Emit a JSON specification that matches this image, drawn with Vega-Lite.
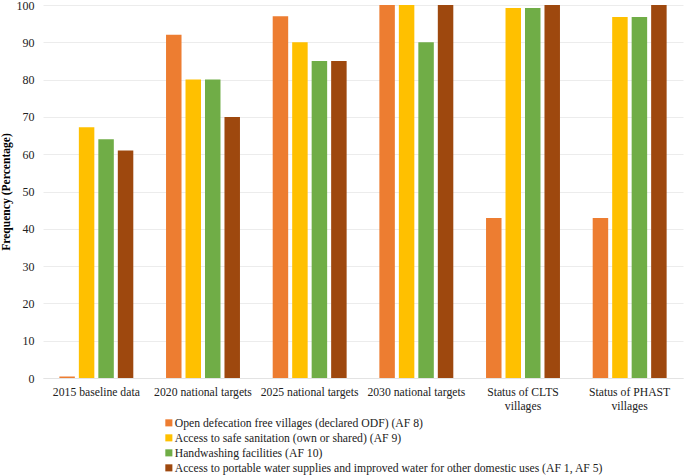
{
  "$schema": "https://vega.github.io/schema/vega-lite/v6.json",
  "width": 640,
  "height": 373,
  "padding": {"left": 43, "top": 5, "right": 2, "bottom": 98},
  "autosize": {"type": "none"},
  "background": "white",
  "data": {"values": [
    {"group": "2015 baseline data", "series": "Open defecation free villages (declared ODF) (AF 8)", "value": 0.4},
    {"group": "2015 baseline data", "series": "Access to safe sanitation (own or shared) (AF 9)", "value": 67.2},
    {"group": "2015 baseline data", "series": "Handwashing facilities (AF 10)", "value": 64},
    {"group": "2015 baseline data", "series": "Access to portable water supplies and improved water for other domestic uses (AF 1, AF 5)", "value": 61},
    {"group": "2020 national targets", "series": "Open defecation free villages (declared ODF) (AF 8)", "value": 92},
    {"group": "2020 national targets", "series": "Access to safe sanitation (own or shared) (AF 9)", "value": 80},
    {"group": "2020 national targets", "series": "Handwashing facilities (AF 10)", "value": 80},
    {"group": "2020 national targets", "series": "Access to portable water supplies and improved water for other domestic uses (AF 1, AF 5)", "value": 70},
    {"group": "2025 national targets", "series": "Open defecation free villages (declared ODF) (AF 8)", "value": 97},
    {"group": "2025 national targets", "series": "Access to safe sanitation (own or shared) (AF 9)", "value": 90},
    {"group": "2025 national targets", "series": "Handwashing facilities (AF 10)", "value": 85},
    {"group": "2025 national targets", "series": "Access to portable water supplies and improved water for other domestic uses (AF 1, AF 5)", "value": 85},
    {"group": "2030 national targets", "series": "Open defecation free villages (declared ODF) (AF 8)", "value": 100},
    {"group": "2030 national targets", "series": "Access to safe sanitation (own or shared) (AF 9)", "value": 100},
    {"group": "2030 national targets", "series": "Handwashing facilities (AF 10)", "value": 90},
    {"group": "2030 national targets", "series": "Access to portable water supplies and improved water for other domestic uses (AF 1, AF 5)", "value": 100},
    {"group": "Status of CLTS villages", "series": "Open defecation free villages (declared ODF) (AF 8)", "value": 42.9},
    {"group": "Status of CLTS villages", "series": "Access to safe sanitation (own or shared) (AF 9)", "value": 99.2},
    {"group": "Status of CLTS villages", "series": "Handwashing facilities (AF 10)", "value": 99.2},
    {"group": "Status of CLTS villages", "series": "Access to portable water supplies and improved water for other domestic uses (AF 1, AF 5)", "value": 100},
    {"group": "Status of PHAST villages", "series": "Open defecation free villages (declared ODF) (AF 8)", "value": 42.9},
    {"group": "Status of PHAST villages", "series": "Access to safe sanitation (own or shared) (AF 9)", "value": 96.8},
    {"group": "Status of PHAST villages", "series": "Handwashing facilities (AF 10)", "value": 96.8},
    {"group": "Status of PHAST villages", "series": "Access to portable water supplies and improved water for other domestic uses (AF 1, AF 5)", "value": 100}
  ]},
  "config": {"font": "Liberation Serif", "view": {"stroke": null}},
  "mark": {"type": "bar"},
  "encoding": {
    "x": {
      "field": "group",
      "type": "nominal",
      "sort": null,
      "scale": {"paddingInner": 0, "paddingOuter": 0},
      "axis": {
        "title": null,
        "labelAngle": 0,
        "labelFontSize": 11.7,
        "labelColor": "#222222",
        "labelPadding": 8,
        "labelLineHeight": 14,
        "ticks": false,
        "domainColor": "#e3e3e3",
        "labelExpr": "indexof(datum.label, 'Status') == 0 ? [slice(datum.label, 0, indexof(datum.label, ' villages')), 'villages'] : datum.label"
      }
    },
    "xOffset": {
      "field": "series",
      "type": "nominal",
      "sort": null,
      "scale": {"paddingInner": 0.205, "paddingOuter": 0.84}
    },
    "y": {
      "field": "value",
      "type": "quantitative",
      "scale": {"domain": [0, 100]},
      "axis": {
        "title": "Frequency (Percentage)",
        "titleFontSize": 11.6,
        "titleFontWeight": "bold",
        "titleColor": "#000000",
        "titlePadding": 5,
        "values": [0, 10, 20, 30, 40, 50, 60, 70, 80, 90, 100],
        "labelFontSize": 12,
        "labelColor": "#222222",
        "labelPadding": 9,
        "ticks": false,
        "domain": false,
        "gridColor": "#ececec"
      }
    },
    "color": {
      "field": "series",
      "type": "nominal",
      "sort": null,
      "scale": {"range": ["#ed7d31", "#ffc000", "#70ad47", "#9e480e"]},
      "legend": {
        "title": null,
        "orient": "none",
        "legendX": 120,
        "legendY": 412,
        "symbolType": "square",
        "symbolSize": 50,
        "symbolOpacity": 1,
        "labelFontSize": 11.7,
        "labelColor": "#222222",
        "labelLimit": 600,
        "labelOffset": 0,
        "rowPadding": 2,
        "columns": 1
      }
    }
  }
}
